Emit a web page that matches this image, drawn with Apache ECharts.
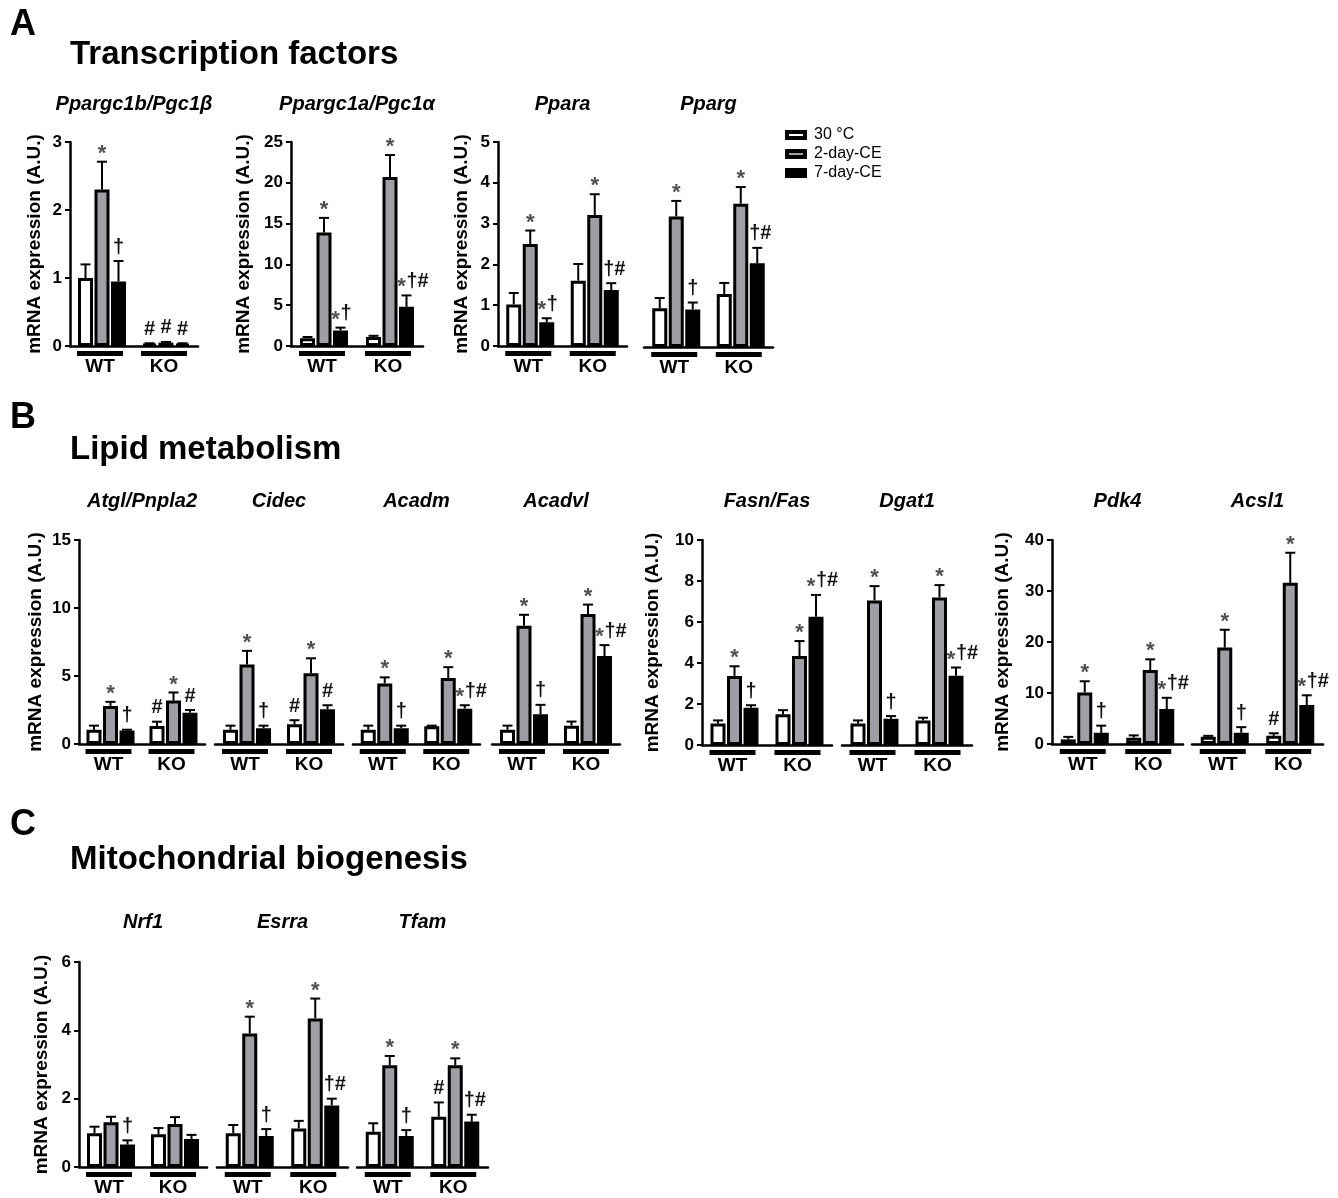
<!DOCTYPE html>
<html>
<head>
<meta charset="utf-8">
<script src="https://cdn.jsdelivr.net/npm/echarts@6/dist/echarts.min.js"></script>
<style>
  html, body { margin: 0; padding: 0; background: #fff; }
  #chart { width: 1338px; height: 1198px; }
</style>
</head>
<body>
<div id="chart"></div>
<script>
// ---- labels ----
const conditions = ['30 °C', '2-day-CE', '7-day-CE'];
const genotypes = ['WT', 'KO'];
const yAxisName = 'mRNA expression (A.U.)';
const sectionLetters = ['A', 'B', 'C'];
const sectionTitles = ['Transcription factors', 'Lipid metabolism', 'Mitochondrial biogenesis'];

// ---- values: [WT row, KO row], each row = [30 °C, 2-day-CE, 7-day-CE] ----
// mean, SEM and significance marks (* vs 30 °C, † vs 2-day-CE, # vs WT)
const pgc1bMean = [[1.00, 2.30, 0.95], [0.03, 0.05, 0.03]];
const pgc1bSem  = [[0.20, 0.41, 0.30], [0.01, 0.01, 0.01]];
const pgc1bSig  = [['', '*', '†'], ['#', '#', '#']];

const pgc1aMean = [[0.95, 13.9, 1.90], [1.10, 20.7, 4.80]];
const pgc1aSem  = [[0.15, 1.80, 0.35], [0.15, 2.70, 1.40]];
const pgc1aSig  = [['', '*', '*†'], ['', '*', '*†#']];

const pparaMean = [[1.02, 2.50, 0.58], [1.60, 3.21, 1.37]];
const pparaSem  = [[0.28, 0.33, 0.10], [0.41, 0.51, 0.17]];
const pparaSig  = [['', '*', '*†'], ['', '*', '†#']];

const ppargMean = [[0.95, 3.20, 0.92], [1.30, 3.51, 2.05]];
const ppargSem  = [[0.25, 0.38, 0.17], [0.27, 0.41, 0.38]];
const ppargSig  = [['', '*', '†'], ['', '*', '†#']];

const atglMean = [[1.05, 2.80, 1.00], [1.32, 3.19, 2.30]];
const atglSem  = [[0.30, 0.30, 0.05], [0.32, 0.60, 0.20]];
const atglSig  = [['', '*', '†'], ['#', '*', '#']];

const cidecMean = [[1.05, 5.85, 1.15], [1.45, 5.20, 2.55]];
const cidecSem  = [[0.30, 1.00, 0.20], [0.30, 1.10, 0.30]];
const cidecSig  = [['', '*', '†'], ['#', '*', '#']];

const acadmMean = [[1.05, 4.45, 1.15], [1.30, 4.85, 2.60]];
const acadmSem  = [[0.30, 0.45, 0.20], [0.05, 0.80, 0.25]];
const acadmSig  = [['', '*', '†'], ['', '*', '*†#']];

const acadvlMean = [[1.05, 8.70, 2.18], [1.35, 9.55, 6.47]];
const acadvlSem  = [[0.30, 0.80, 0.70], [0.30, 0.70, 0.80]];
const acadvlSig  = [['', '*', '†'], ['', '*', '*†#']];

const fasnMean = [[1.05, 3.37, 1.82], [1.50, 4.34, 6.26]];
const fasnSem  = [[0.15, 0.47, 0.12], [0.20, 0.73, 1.06]];
const fasnSig  = [['', '*', '†'], ['', '*', '*†#']];

const dgat1Mean = [[1.05, 7.05, 1.28], [1.20, 7.20, 3.38]];
const dgat1Sem  = [[0.15, 0.70, 0.13], [0.13, 0.60, 0.40]];
const dgat1Sig  = [['', '*', '†'], ['', '*', '*†#']];

const pdk4Mean = [[0.90, 10.1, 2.20], [1.24, 14.5, 6.86]];
const pdk4Sem  = [[0.50, 2.20, 1.40], [0.45, 2.10, 2.20]];
const pdk4Sig  = [['', '*', '†'], ['', '*', '*†#']];

const acsl1Mean = [[1.40, 18.9, 2.20], [1.60, 31.6, 7.65]];
const acsl1Sem  = [[0.20, 3.50, 1.10], [0.50, 5.90, 1.90]];
const acsl1Sig  = [['', '*', '†'], ['#', '*', '*†#']];

const nrf1Mean = [[0.99, 1.31, 0.66], [0.96, 1.26, 0.82]];
const nrf1Sem  = [[0.19, 0.16, 0.12], [0.18, 0.20, 0.12]];
const nrf1Sig  = [['', '', '†'], ['', '', '']];

const esrraMean = [[0.99, 3.91, 0.91], [1.13, 4.35, 1.80]];
const esrraSem  = [[0.24, 0.49, 0.20], [0.22, 0.58, 0.20]];
const esrraSig  = [['', '*', '†'], ['', '*', '†#']];

const tfamMean = [[1.03, 2.98, 0.91], [1.47, 2.98, 1.33]];
const tfamSem  = [[0.25, 0.27, 0.17], [0.42, 0.20, 0.20]];
const tfamSig  = [['', '*', '†'], ['#', '*', '†#']];

// ---- layout of the small plots ----
const FONT = "'Liberation Sans', Arial, Helvetica, sans-serif";
const FILLS = ['#ffffff', '#9e9ea4', '#000000'];
const BAR_W = 15;
const BAR_GAP = 0.1;
const PITCH = BAR_W * (1 + BAR_GAP);

const plots = [
  { gene: 'Ppargc1b/Pgc1β', mean: pgc1bMean, sem: pgc1bSem, sig: pgc1bSig, left: 70,   top: 142, width: 128, height: 204, max: 3,  interval: 1,  axis: true, nameGap: 26 },
  { gene: 'Ppargc1a/Pgc1α', mean: pgc1aMean, sem: pgc1aSem, sig: pgc1aSig, left: 291,  top: 142, width: 132, height: 204, max: 25, interval: 5,  axis: true, nameGap: 38 },
  { gene: 'Ppara',          mean: pparaMean, sem: pparaSem, sig: pparaSig, left: 498,  top: 142, width: 129, height: 204, max: 5,  interval: 1,  axis: true, nameGap: 27 },
  { gene: 'Pparg',          mean: ppargMean, sem: ppargSem, sig: ppargSig, left: 644,  top: 143, width: 129, height: 204, max: 5,  interval: 1,  axis: false },
  { gene: 'Atgl/Pnpla2',    mean: atglMean,  sem: atglSem,  sig: atglSig,  left: 79,   top: 540, width: 126, height: 204, max: 15, interval: 5,  axis: true, nameGap: 34 },
  { gene: 'Cidec',          mean: cidecMean, sem: cidecSem, sig: cidecSig, left: 215,  top: 540, width: 128, height: 204, max: 15, interval: 5,  axis: false },
  { gene: 'Acadm',          mean: acadmMean, sem: acadmSem, sig: acadmSig, left: 353,  top: 540, width: 127, height: 204, max: 15, interval: 5,  axis: false },
  { gene: 'Acadvl',         mean: acadvlMean,sem: acadvlSem,sig: acadvlSig,left: 492,  top: 540, width: 128, height: 204, max: 15, interval: 5,  axis: false },
  { gene: 'Fasn/Fas',       mean: fasnMean,  sem: fasnSem,  sig: fasnSig,  left: 702,  top: 540, width: 130, height: 205, max: 10, interval: 2,  axis: true, nameGap: 40 },
  { gene: 'Dgat1',          mean: dgat1Mean, sem: dgat1Sem, sig: dgat1Sig, left: 842,  top: 540, width: 130, height: 205, max: 10, interval: 2,  axis: false },
  { gene: 'Pdk4',           mean: pdk4Mean,  sem: pdk4Sem,  sig: pdk4Sig,  left: 1052, top: 540, width: 131, height: 204, max: 40, interval: 10, axis: true, nameGap: 40 },
  { gene: 'Acsl1',          mean: acsl1Mean, sem: acsl1Sem, sig: acsl1Sig, left: 1192, top: 540, width: 131, height: 204, max: 40, interval: 10, axis: false },
  { gene: 'Nrf1',           mean: nrf1Mean,  sem: nrf1Sem,  sig: nrf1Sig,  left: 79,   top: 962, width: 128, height: 205, max: 6,  interval: 2,  axis: true, nameGap: 28 },
  { gene: 'Esrra',          mean: esrraMean, sem: esrraSem, sig: esrraSig, left: 217,  top: 962, width: 131, height: 205, max: 6,  interval: 2,  axis: false },
  { gene: 'Tfam',           mean: tfamMean,  sem: tfamSem,  sig: tfamSig,  left: 357,  top: 962, width: 131, height: 205, max: 6,  interval: 2,  axis: false }
];
const geneTitleY = { 142: 104, 143: 104, 540: 501, 962: 922 };

// error bar + significance marks for one plot
function makeErrorRender(sig) {
  return function (params, api) {
    const cat = api.value(0), cond = api.value(1), m = api.value(2), s = api.value(3);
    const base = api.coord([cat, m]);
    const top = api.coord([cat, m + s]);
    const cx = base[0] + (cond - 1) * PITCH;
    const children = [];
    if (s > 0) {
      children.push({ type: 'line', shape: { x1: cx, y1: base[1], x2: cx, y2: top[1] }, style: { stroke: '#000', lineWidth: 2 } });
      children.push({ type: 'line', shape: { x1: cx - 5, y1: top[1], x2: cx + 5, y2: top[1] }, style: { stroke: '#000', lineWidth: 2 } });
    }
    const mark = sig[cat][cond];
    const ay = top[1] - 14;
    const star = (x) => ({ type: 'text', style: { text: '*', x: x, y: ay + 6, align: 'center', verticalAlign: 'middle', font: 'bold 22px ' + FONT, fill: '#505050' } });
    const sym = (t, x, align) => ({ type: 'text', style: { text: t, x: x, y: ay, align: align, verticalAlign: 'middle', font: 'bold 20px ' + FONT, fill: '#111' } });
    if (mark === '*') {
      children.push(star(cx));
    } else if (mark.length === 1) {
      children.push(sym(mark, cx, 'center'));
    } else if (mark.length > 1 && mark[0] === '*') {
      children.push(star(cx - 5));
      children.push(sym(mark.slice(1), cx, 'left'));
    } else if (mark.length > 1) {
      children.push(sym(mark, cx - 8, 'left'));
    }
    return { type: 'group', children: children };
  };
}

// genotype underline + label below each group
function groupRender(params, api) {
  const cat = api.value(0);
  const p = api.coord([cat, 0]);
  const cx = p[0] - 2;
  return {
    type: 'group',
    children: [
      { type: 'rect', shape: { x: cx - 23, y: p[1] + 5, width: 46, height: 5 }, style: { fill: '#000' } },
      { type: 'text', style: { text: genotypes[cat], x: cx, y: p[1] + 21, align: 'center', verticalAlign: 'middle', font: 'bold 19px ' + FONT, fill: '#000' } }
    ]
  };
}

const option = {
  animation: false,
  backgroundColor: '#fff',
  textStyle: { fontFamily: FONT },
  legend: {
    data: conditions,
    orient: 'vertical',
    left: 780,
    top: 122,
    itemWidth: 18,
    itemHeight: 6,
    itemGap: 3,
    icon: 'rect',
    selectedMode: false,
    itemStyle: { borderColor: '#000', borderWidth: 4 },
    textStyle: { fontSize: 16, color: '#000', fontFamily: FONT, padding: [0, 0, 0, 4] }
  },
  grid: [], xAxis: [], yAxis: [], series: [], graphic: []
};

plots.forEach((g, i) => {
  option.grid.push({ left: g.left, top: g.top, width: g.width, height: g.height });
  option.xAxis.push({
    gridIndex: i, type: 'category', data: genotypes,
    axisLine: { lineStyle: { color: '#000', width: 2.5 } },
    axisTick: { show: false }, axisLabel: { show: false }, splitLine: { show: false }
  });
  option.yAxis.push({
    gridIndex: i, type: 'value', min: 0, max: g.max, interval: g.interval,
    name: g.axis ? yAxisName : '',
    nameLocation: 'middle', nameRotate: 90, nameGap: g.nameGap || 0,
    nameTextStyle: { fontSize: 19, fontWeight: 'bold', color: '#000', fontFamily: FONT },
    axisLine: { show: g.axis, lineStyle: { color: '#000', width: 2.5 } },
    axisTick: { show: g.axis, inside: false, length: 5, lineStyle: { color: '#000', width: 2 } },
    axisLabel: { show: g.axis, margin: 8, fontSize: 17, fontWeight: 'bold', color: '#000', fontFamily: FONT },
    splitLine: { show: false }
  });
  conditions.forEach((c, k) => {
    option.series.push({
      type: 'bar', name: c, xAxisIndex: i, yAxisIndex: i,
      barWidth: BAR_W, barGap: (BAR_GAP * 100) + '%',
      data: g.mean.map(row => row[k]),
      itemStyle: { color: FILLS[k], borderColor: '#000', borderWidth: 3 },
      emphasis: { disabled: true }, silent: true
    });
  });
  const errData = [];
  g.mean.forEach((row, cat) => row.forEach((m, cond) => errData.push([cat, cond, m, g.sem[cat][cond]])));
  option.series.push({
    type: 'custom', name: 'errors-' + i, xAxisIndex: i, yAxisIndex: i, clip: false, z: 4, silent: true,
    renderItem: makeErrorRender(g.sig), data: errData
  });
  option.series.push({
    type: 'custom', name: 'groups-' + i, xAxisIndex: i, yAxisIndex: i, clip: false, z: 4, silent: true,
    renderItem: groupRender, data: [[0, 0], [1, 0]]
  });
  option.graphic.push({
    type: 'text', x: g.left + g.width / 2, y: geneTitleY[g.top], silent: true,
    style: { text: g.gene, align: 'center', verticalAlign: 'middle', font: 'italic bold 20px ' + FONT, fill: '#000' }
  });
});

// section letters and headings
const sectionY = [[25, 55], [418, 450], [825, 860]];
sectionLetters.forEach((L, s) => {
  option.graphic.push({ type: 'text', x: 10, y: sectionY[s][0], silent: true,
    style: { text: L, align: 'left', verticalAlign: 'middle', font: 'bold 36px ' + FONT, fill: '#000' } });
  option.graphic.push({ type: 'text', x: 70, y: sectionY[s][1], silent: true,
    style: { text: sectionTitles[s], align: 'left', verticalAlign: 'middle', font: 'bold 33px ' + FONT, fill: '#000' } });
});

const chart = echarts.init(document.getElementById('chart'), null, { renderer: 'canvas' });
chart.setOption(option);
</script>
</body>
</html>
